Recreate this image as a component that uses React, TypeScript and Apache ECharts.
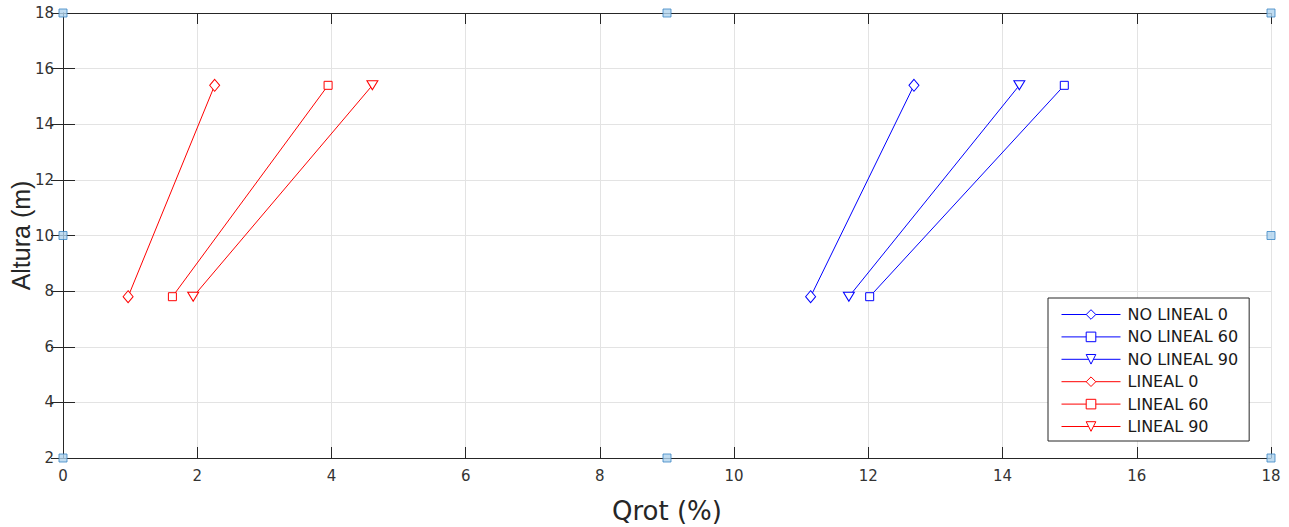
import React, { useEffect, useRef } from "react";
import * as echarts from "echarts";

const heights = [7.8, 15.4];
const noLineal0 = [11.14, 12.68];
const noLineal60 = [12.02, 14.92];
const noLineal90 = [11.71, 14.25];
const lineal0 = [0.97, 2.26];
const lineal60 = [1.63, 3.95];
const lineal90 = [1.94, 4.61];
const handleX = [0, 9, 18, 0, 18, 0, 9, 18];
const handleY = [18, 18, 18, 10, 10, 2, 2, 2];

const SQUARE = "path://M0,0L10,0L10,10L0,10Z";

const seriesDefs = [
  { name: "NO LINEAL 0", xs: noLineal0, color: "#0000ff", symbol: "diamond", size: [10, 12], rot: 0 },
  { name: "NO LINEAL 60", xs: noLineal60, color: "#0000ff", symbol: SQUARE, size: 8, rot: 0 },
  { name: "NO LINEAL 90", xs: noLineal90, color: "#0000ff", symbol: "triangle", size: [11, 9], rot: 180 },
  { name: "LINEAL 0", xs: lineal0, color: "#ff0000", symbol: "diamond", size: [10, 12], rot: 0 },
  { name: "LINEAL 60", xs: lineal60, color: "#ff0000", symbol: SQUARE, size: 8, rot: 0 },
  { name: "LINEAL 90", xs: lineal90, color: "#ff0000", symbol: "triangle", size: [11, 9], rot: 180 },
];

const FONT = "'DejaVu Sans', Verdana, sans-serif";
const FONT_Y = "'Liberation Sans', Arial, Helvetica, sans-serif";
const AX = "#262626";

export default function App() {
  const ref = useRef<HTMLDivElement>(null);
  useEffect(() => {
    const chart = echarts.init(ref.current!, null, { renderer: "svg" });
    const option: any = {
      animation: false,
      backgroundColor: "#ffffff",
      grid: { left: 63, right: 18, top: 13, bottom: 69, containLabel: false, outerBoundsMode: "none" },
      legend: {
        orient: "vertical",
        left: 1048,
        top: 298,
        padding: [8, 11, 6, 13],
        itemWidth: 59,
        itemHeight: 12,
        itemGap: 5.4,
        backgroundColor: "#ffffff",
        borderColor: AX,
        borderWidth: 1,
        borderRadius: 0,
        iconRotate: "inherit",
        lineStyle: { width: 1 },
        itemStyle: { borderWidth: 1 },
        textStyle: { fontFamily: FONT, fontSize: 16, color: "#1a1a1a", padding: [0, 0, 0, 2], lineHeight: 17 },
        data: seriesDefs.map((s) => s.name),
      },
      xAxis: [
        {
          type: "value",
          min: 0,
          max: 18,
          interval: 2,
          position: "bottom",
          name: "Qrot (%)",
          nameLocation: "middle",
          nameGap: 40,
          nameMoveOverlap: false,
          nameTextStyle: { fontFamily: FONT, fontSize: 26, color: AX },
          axisLine: { show: true, lineStyle: { color: AX, width: 1 } },
          axisTick: { show: true, inside: true, length: 11, lineStyle: { color: AX } },
          axisLabel: { fontFamily: FONT, fontSize: 15, color: "#333", margin: 10 },
          splitLine: { show: true, lineStyle: { color: "#e3e3e3", width: 1 } },
        },
        {
          type: "value",
          min: 0,
          max: 18,
          interval: 2,
          position: "top",
          axisLine: { show: true, lineStyle: { color: AX, width: 1 } },
          axisTick: { show: true, inside: true, length: 11, lineStyle: { color: AX } },
          axisLabel: { show: false },
          splitLine: { show: false },
        },
      ],
      yAxis: [
        {
          type: "value",
          min: 2,
          max: 18,
          interval: 2,
          position: "left",
          name: "Altura (m)",
          nameLocation: "middle",
          nameGap: 30,
          nameMoveOverlap: false,
          nameTextStyle: { fontFamily: FONT_Y, fontSize: 25, color: AX },
          axisLine: { show: true, lineStyle: { color: AX, width: 1 } },
          axisTick: { show: true, inside: true, length: 12, lineStyle: { color: AX } },
          axisLabel: { fontFamily: FONT, fontSize: 15, color: "#333", margin: 9 },
          splitLine: { show: true, lineStyle: { color: "#e3e3e3", width: 1 } },
        },
        {
          type: "value",
          min: 2,
          max: 18,
          interval: 2,
          position: "right",
          axisLine: { show: true, lineStyle: { color: AX, width: 1 } },
          axisTick: { show: true, inside: true, length: 12, lineStyle: { color: AX } },
          axisLabel: { show: false },
          splitLine: { show: false },
        },
      ],
      series: [
        ...seriesDefs.map((s) => ({
          name: s.name,
          type: "line",
          xAxisIndex: 0,
          yAxisIndex: 0,
          data: s.xs.map((x, i) => [x, heights[i]]),
          symbol: s.symbol,
          symbolSize: s.size,
          symbolRotate: s.rot,
          showSymbol: true,
          lineStyle: { color: s.color, width: 1 },
          itemStyle: { color: "#ffffff", borderColor: s.color, borderWidth: 1 },
          emphasis: { disabled: true },
          z: 3,
        })),
        {
          name: "handles",
          type: "scatter",
          data: handleX.map((x, i) => [x, handleY[i]]),
          symbol: "rect",
          symbolSize: 8,
          itemStyle: { color: "#b0d3ee", borderColor: "#3a86c4", borderWidth: 1 },
          emphasis: { disabled: true },
          z: 10,
          clip: false,
        },
      ],
    };
    chart.setOption(option);
    return () => chart.dispose();
  }, []);
  return (
    <div
      ref={ref}
      style={{ position: "fixed", left: 0, top: 0, width: 1289, height: 527 }}
    />
  );
}
